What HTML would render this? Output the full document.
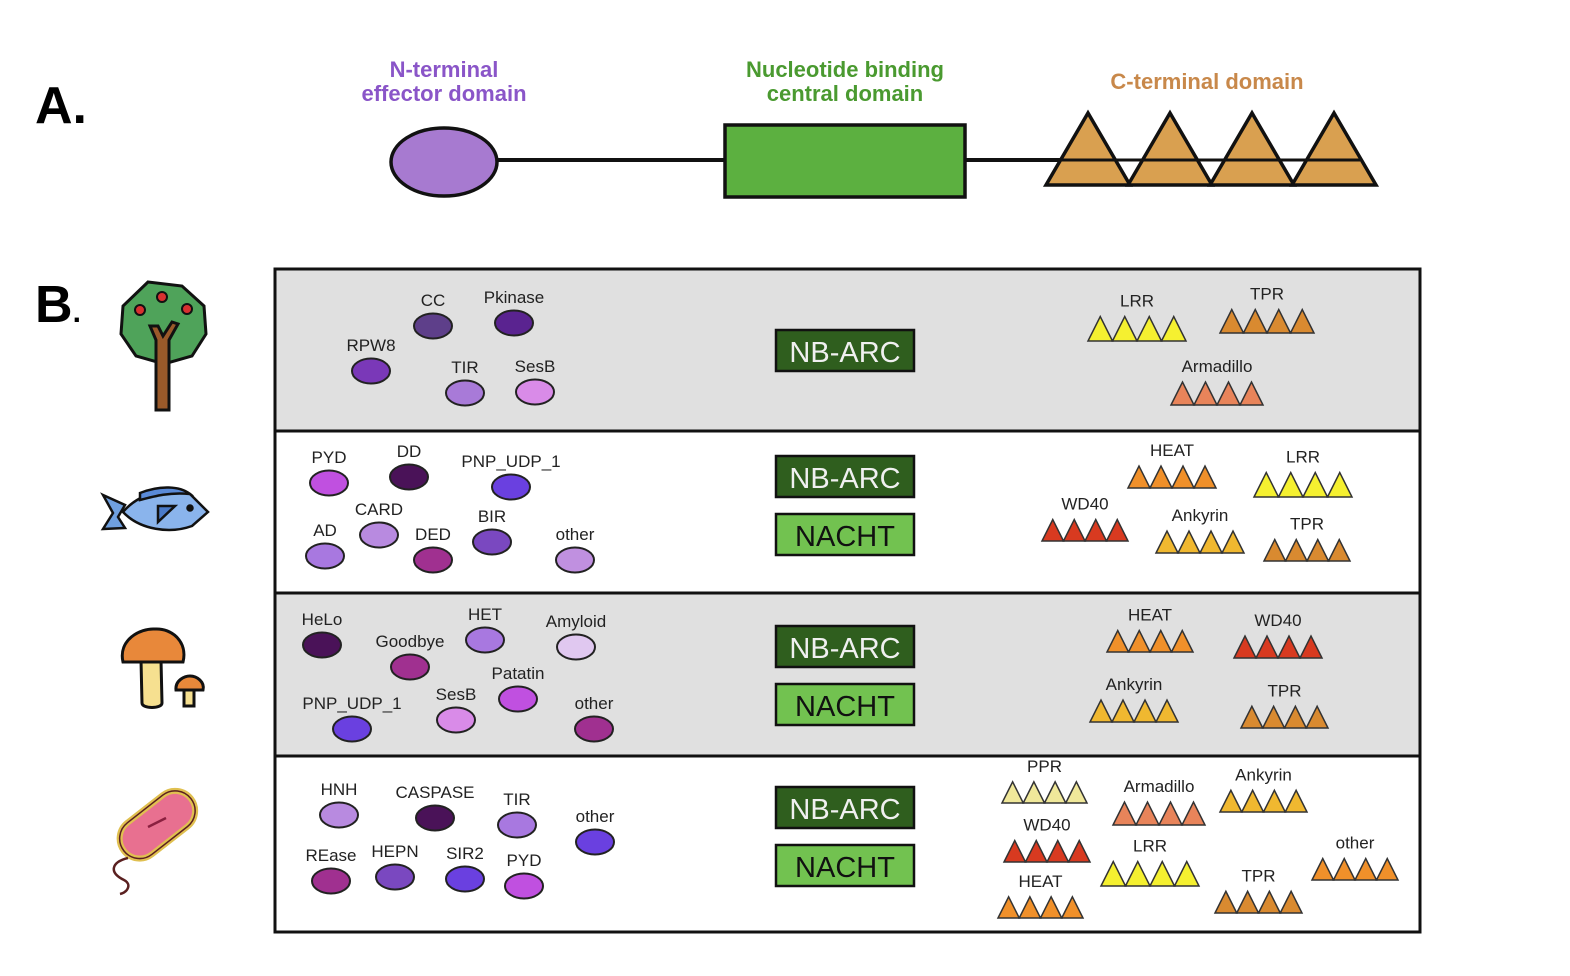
<!DOCTYPE html>
<html><head><meta charset="utf-8"><style>
html,body{margin:0;padding:0;background:#fff;}
svg{display:block;font-family:"Liberation Sans",sans-serif;}
</style></head><body>
<svg id="fig" width="1570" height="976" viewBox="0 0 1570 976" xmlns="http://www.w3.org/2000/svg">
<!-- Part A -->
<text x="35" y="123" font-size="52" font-weight="bold">A.</text>
<text x="444" y="77" font-size="22" font-weight="bold" fill="#8a55c8" text-anchor="middle"><tspan x="444">N-terminal</tspan><tspan x="444" dy="24">effector domain</tspan></text>
<text x="845" y="77" font-size="22" font-weight="bold" fill="#4a9a30" text-anchor="middle"><tspan x="845">Nucleotide binding</tspan><tspan x="845" dy="24">central domain</tspan></text>
<text x="1207" y="89" font-size="22" font-weight="bold" fill="#c8884a" text-anchor="middle">C-terminal domain</text>
<line x1="495" y1="160" x2="1060" y2="160" stroke="#111" stroke-width="4"/>
<ellipse cx="444" cy="162" rx="53" ry="34" fill="#a77ad0" stroke="#111" stroke-width="3.5"/>
<rect x="725" y="125" width="240" height="72" fill="#5cb040" stroke="#111" stroke-width="3.5"/>
<g id="ctri"></g>
<!-- Part B -->
<text x="35" y="322" font-size="52" font-weight="bold">B<tspan font-size="30">.</tspan></text>
<rect x="275" y="269" width="1145" height="162" fill="#e0e0e0"/>
<rect x="275" y="431" width="1145" height="162" fill="#fff"/>
<rect x="275" y="593" width="1145" height="163" fill="#e0e0e0"/>
<rect x="275" y="756" width="1145" height="176" fill="#fff"/>
<rect x="275" y="269" width="1145" height="663" fill="none" stroke="#111" stroke-width="3"/>
<line x1="275" y1="431" x2="1420" y2="431" stroke="#111" stroke-width="3"/>
<line x1="275" y1="593" x2="1420" y2="593" stroke="#111" stroke-width="3"/>
<line x1="275" y1="756" x2="1420" y2="756" stroke="#111" stroke-width="3"/>
<!-- icons -->
<g stroke="#111" stroke-width="3">
<path d="M148,282 L182,286 L204,306 L206,334 L192,356 L164,364 L136,356 L121,334 L123,306 Z" fill="#4fa35a"/>
<path d="M156,410 L156,340 L150,326 L158,326 L163,336 L172,322 L178,324 L169,340 L169,410 Z" fill="#9a5a2a"/>
<circle cx="162" cy="297" r="5" fill="#d83030" stroke-width="2"/>
<circle cx="140" cy="310" r="5" fill="#d83030" stroke-width="2"/>
<circle cx="187" cy="309" r="5" fill="#d83030" stroke-width="2"/>
</g>
<g stroke="#111" stroke-width="2.5">
<path d="M103,495 L125,505 L118,517 L125,528 L103,529 L113,513 Z" fill="#6fa0e0"/>
<path d="M123,512 C140,492 170,486 190,494 L208,512 L192,526 C170,534 140,530 123,512 Z" fill="#8ab4ec"/>
<path d="M140,493 C160,485 180,486 190,494 C170,492 155,496 140,500 Z" fill="#5a8ad8"/>
<path d="M158,506 L175,506 L158,522 Z" fill="#4a7ac8"/>
<circle cx="190" cy="508" r="2.5" fill="#111"/>
</g>
<g stroke="#111" stroke-width="3">
<path d="M141,660 L161,660 L162,703 C162,709 142,709 142,703 Z" fill="#f6e090"/>
<path d="M123,662 C118,640 140,628 155,629 C172,628 188,642 183,662 Z" fill="#e8883a"/>
<path d="M184,688 L194,688 L194,706 L184,706 Z" fill="#f6e090"/>
<path d="M176,690 C175,680 185,676 190,676 C197,676 205,682 203,690 Z" fill="#e8883a"/>
</g>
<g>
<rect x="115" y="805" width="85" height="40" rx="20" transform="rotate(-38 157 825)" fill="#e87090" stroke="#e0c050" stroke-width="6"/>
<rect x="115" y="805" width="85" height="40" rx="20" transform="rotate(-38 157 825)" fill="none" stroke="#5a2020" stroke-width="1.5"/>
<path d="M128,858 C112,862 108,872 124,880 C132,884 128,892 120,894" fill="none" stroke="#5a2020" stroke-width="2.5"/>
<path d="M148,827 L158,822 L166,818" stroke="#8a2040" stroke-width="2.5" fill="none"/>
</g>
<g id="circles"></g>
<g id="tris"></g>
<g id="boxes"></g>
</svg>
<script>
var NS='http://www.w3.org/2000/svg';
function mk(t,a,p){var e=document.createElementNS(NS,t);for(var k in a)e.setAttribute(k,a[k]);p.appendChild(e);return e;}
// N-terminal effector domains
var circLabels=['CC','Pkinase','RPW8','TIR','SesB','PYD','DD','PNP_UDP_1','AD','CARD','DED','BIR','other','HeLo','Goodbye','HET','Amyloid','PNP_UDP_1','SesB','Patatin','other','HNH','CASPASE','TIR','other','REase','HEPN','SIR2','PYD'];
var circX=[433,514,371,465,535,329,409,511,325,379,433,492,575,322,410,485,576,352,456,518,594,339,435,517,595,331,395,465,524];
var circY=[326,323,371,393,392,483,477,487,556,535,560,542,560,645,667,640,647,729,720,699,729,815,818,825,842,881,877,879,886];
var circCol=['#5e3f8a','#5a2390','#7a38b8','#a87ad8','#d98be8','#c050e0','#4a1258','#6a40e0','#a878e0','#b88ae0','#a03090','#7a48c0','#c090e0','#4a1258','#a03090','#a878e0','#e0c8f0','#6a40e0','#d98be8','#c050e0','#a03090','#b88ae0','#4a1258','#a878e0','#6a40e0','#a03090','#7a48c0','#6a40e0','#c050e0'];
var cg=document.getElementById('circles');
for(var i=0;i<circLabels.length;i++){
  var e=mk('ellipse',{cx:circX[i],cy:circY[i],rx:19,ry:12.5,fill:circCol[i],stroke:'#222','stroke-width':2},cg);
  
  
  var t=mk('text',{x:circX[i],y:circY[i]-20,'font-size':17,'text-anchor':'middle',fill:'#222'},cg);
  t.textContent=circLabels[i];
  
  
}
// C-terminal repeat domains
var triLabels=['LRR','TPR','Armadillo','HEAT','LRR','WD40','Ankyrin','TPR','HEAT','WD40','Ankyrin','TPR','PPR','Armadillo','Ankyrin','WD40','LRR','other','HEAT','TPR'];
var triX=[1088,1220,1171,1128,1254,1042,1156,1264,1107,1234,1090,1241,1002,1113,1220,1004,1101,1312,998,1215];
var triW=[98,94,92,88,98,86,88,86,86,88,88,87,85,92,87,86,98,86,85,87];
var triY=[341,333,405,488,497,541,553,561,652,658,722,728,803,825,812,862,886,880,918,913];
var triCol=['#f5f030','#d98a30','#e8845a','#f0902a','#f5f030','#d83a20','#f0b830','#d98a30','#f0902a','#d83a20','#f0b830','#d98a30','#f0e89a','#e8845a','#f0b830','#d83a20','#f5f030','#f0902a','#f0902a','#d98a30'];
var tg=document.getElementById('tris');
for(var i=0;i<triLabels.length;i++){
  var w=triW[i]/4,h=triW[i]/4;
  for(var j=0;j<4;j++){
    var x0=triX[i]+j*w;
    var p=mk('polygon',{points:x0+','+triY[i]+' '+(x0+w/2)+','+(triY[i]-h)+' '+(x0+w)+','+triY[i],fill:triCol[i],stroke:'#333','stroke-width':1.5},tg);
    
    
  }
  var t=mk('text',{x:triX[i]+triW[i]/2,y:triY[i]-h-10,'font-size':17,'text-anchor':'middle',fill:'#222'},tg);
  t.textContent=triLabels[i];
  
  
}
// central domains
var boxLabels=['NB-ARC','NB-ARC','NACHT','NB-ARC','NACHT','NB-ARC','NACHT'];
var boxY=[330,456,514,626,684,787,845];
var bg=document.getElementById('boxes');
for(var i=0;i<boxLabels.length;i++){
  var dark=boxLabels[i]==='NB-ARC';
  var r=mk('rect',{x:776,y:boxY[i],width:138,height:41,fill:dark?'#2f5e1e':'#72c250',stroke:'#111','stroke-width':2.5},bg);
  
  
  var t=mk('text',{x:845,y:boxY[i]+32,'font-size':29,'text-anchor':'middle',fill:dark?'#f0f0f0':'#111'},bg);
  t.textContent=boxLabels[i];
  
  
}
// Part A triangles
var aApex=[1088,1170,1252,1334];
var ag=document.getElementById('ctri');
for(var i=0;i<aApex.length;i++){
  var p=mk('polygon',{points:(aApex[i]-42)+',185 '+aApex[i]+',113 '+(aApex[i]+42)+',185',fill:'#d9a050',stroke:'#111','stroke-width':3.5},ag);
  
  
}
mk('line',{x1:1060,y1:160,x2:1360,y2:160,stroke:'#111','stroke-width':3},ag);
</script>
</body></html>
